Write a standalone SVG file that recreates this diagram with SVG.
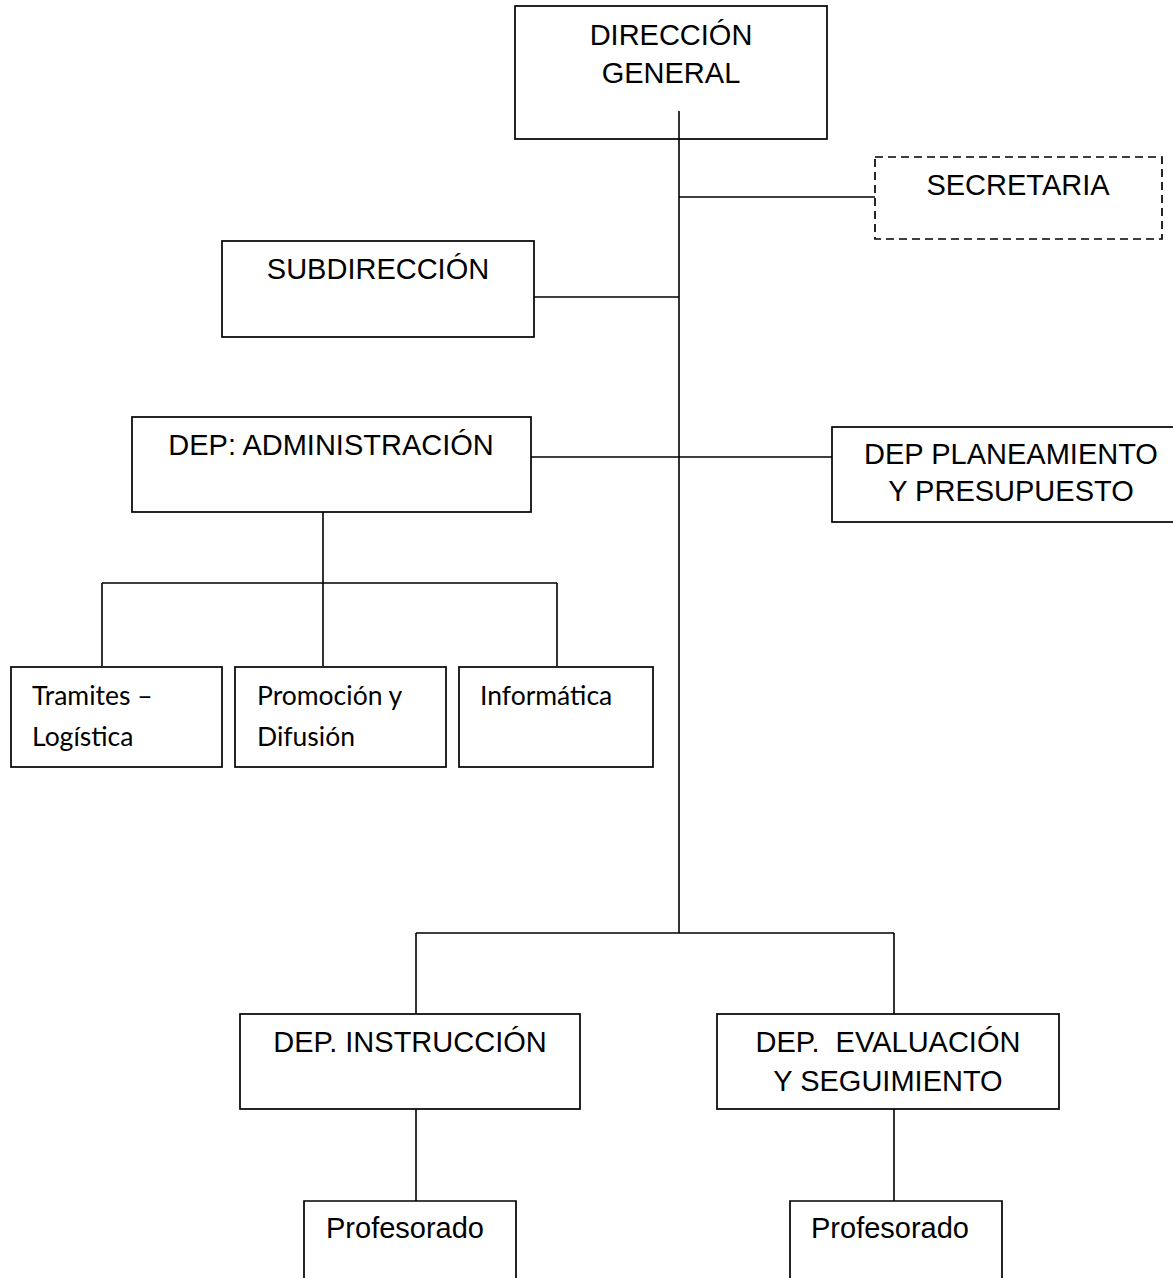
<svg xmlns="http://www.w3.org/2000/svg" width="1173" height="1278" viewBox="0 0 1173 1278">
  <style>
    .box { fill: #ffffff; stroke: #000000; stroke-width: 1.7; }
    .open { fill: none; stroke: #000000; stroke-width: 1.7; }
    .dashed { fill: #ffffff; stroke: #000000; stroke-width: 1.7; stroke-dasharray: 8 5; }
    .link { fill: none; stroke: #000000; stroke-width: 1.6; }
    .t { font-family: "Liberation Sans", Arial, sans-serif; font-size: 29px; fill: #000000; text-anchor: middle; }
    .tl { font-family: "Liberation Sans", Arial, sans-serif; font-size: 29px; fill: #000000; }
    .s { font-family: Lato, "Open Sans", sans-serif; font-size: 26.5px; fill: #000000; }
  </style>
  <rect width="1173" height="1278" fill="#ffffff"/>

  <!-- connectors -->
  <g id="connectors">
    <path class="link" d="M679 111 V933"/>
    <path class="link" d="M679 197 H875"/>
    <path class="link" d="M534 297 H679"/>
    <path class="link" d="M531 457 H832"/>
    <path class="link" d="M323 512 V583 M102 583 H557 M102 583 V666 M323 583 V666 M557 583 V666"/>
    <path class="link" d="M416 933 H894 M416 933 V1014 M894 933 V1014"/>
    <path class="link" d="M416 1109 V1201 M894 1109 V1201"/>
  </g>

  <g id="direccion-general">
    <rect class="open" x="515" y="6" width="312" height="133"/>
    <text class="t" x="671" y="45">DIRECCIÓN</text>
    <text class="t" x="671" y="83">GENERAL</text>
  </g>

  <g id="secretaria">
    <rect class="dashed" x="875" y="157" width="287" height="82"/>
    <text class="t" x="1018" y="195">SECRETARIA</text>
  </g>

  <g id="subdireccion">
    <rect class="box" x="222" y="241" width="312" height="96"/>
    <text class="t" x="378" y="279">SUBDIRECCIÓN</text>
  </g>

  <g id="dep-administracion">
    <rect class="box" x="132" y="417" width="399" height="95"/>
    <text class="t" x="331" y="455">DEP: ADMINISTRACIÓN</text>
  </g>

  <g id="dep-planeamiento">
    <rect class="box" x="832" y="427" width="358" height="95"/>
    <text class="t" x="1011" y="464">DEP PLANEAMIENTO</text>
    <text class="t" x="1011" y="501">Y PRESUPUESTO</text>
  </g>

  <g id="tramites-logistica">
    <rect class="box" x="11" y="667" width="211" height="100"/>
    <text class="s" x="32" y="705">Tramites –</text>
    <text class="s" x="32" y="746">Logística</text>
  </g>

  <g id="promocion-difusion">
    <rect class="box" x="235" y="667" width="211" height="100"/>
    <text class="s" x="257" y="705">Promoción y</text>
    <text class="s" x="257" y="746">Difusión</text>
  </g>

  <g id="informatica">
    <rect class="box" x="459" y="667" width="194" height="100"/>
    <text class="s" x="480" y="705">Informática</text>
  </g>

  <g id="dep-instruccion">
    <rect class="box" x="240" y="1014" width="340" height="95"/>
    <text class="t" x="410" y="1052">DEP. INSTRUCCIÓN</text>
  </g>

  <g id="dep-evaluacion">
    <rect class="box" x="717" y="1014" width="342" height="95"/>
    <text class="t" x="888" y="1052" xml:space="preserve">DEP.  EVALUACIÓN</text>
    <text class="t" x="888" y="1091">Y SEGUIMIENTO</text>
  </g>

  <g id="profesorado-instruccion">
    <path class="open" d="M304 1290 V1201 H516 V1290"/>
    <text class="tl" x="326" y="1238">Profesorado</text>
  </g>

  <g id="profesorado-evaluacion">
    <path class="open" d="M790 1290 V1201 H1002 V1290"/>
    <text class="tl" x="811" y="1238">Profesorado</text>
  </g>
</svg>
